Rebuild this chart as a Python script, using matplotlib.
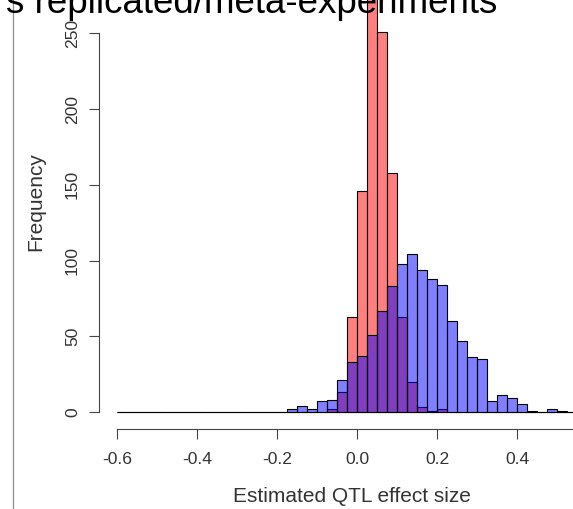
import numpy as np
import matplotlib
matplotlib.use("Agg")
import matplotlib.pyplot as plt
from matplotlib.lines import Line2D

plt.rcParams['font.family'] = ['Liberation Sans', 'DejaVu Sans']

# histogram bins (breaks as in R's hist, width 0.025)
bin_start = -0.6
bin_width = 0.025
n_bins = 47

# counts per bin (bin 0 starts at -0.6)
single_counts = [0] * 21 + [2, 13, 63, 146, 285, 251, 158, 63, 20, 3, 1, 2] + [0] * 14
meta_counts = [0] * 17 + [2, 4, 2, 7, 8, 21, 33, 37, 51, 67, 83, 98, 104, 94, 88, 84,
                          60, 47, 36, 35, 7, 11, 9, 5, 1, 0, 2, 1, 0, 0]

title_text = "s replicated/meta-experiments"
x_label = "Estimated QTL effect size"
y_label = "Frequency"
x_ticks = [-0.6, -0.4, -0.2, 0.0, 0.2, 0.4]
x_axis_end = 0.6  # axis line runs on past the right edge of the crop
y_ticks = [0, 50, 100, 150, 200, 250]

left_edges = bin_start + bin_width * np.arange(n_bins)
bin_end = bin_start + bin_width * n_bins

W, H = 573, 509
fig = plt.figure(figsize=(W / 100, H / 100), dpi=100)

# plot region (partly outside the cropped picture)
px_left, px_right, px_top, px_bottom = 98.7, 606.0, -37.0, 429.3
ax = fig.add_axes([px_left / W, (H - px_bottom) / H,
                   (px_right - px_left) / W, (px_bottom - px_top) / H])

# R-style 4% extension of the data range
xr = bin_end - bin_start
ymax = max(max(single_counts), max(meta_counts))
ax.set_xlim(bin_start - 0.04 * xr, bin_end + 0.04 * xr)
ax.set_ylim(-0.04 * ymax, 1.04 * ymax)

ax.bar(left_edges, single_counts, width=bin_width, align='edge',
       facecolor=(1, 0, 0, 0.5), edgecolor='black', linewidth=0.8)
ax.bar(left_edges, meta_counts, width=bin_width, align='edge',
       facecolor=(0, 0, 1, 0.5), edgecolor='black', linewidth=0.8)

for side in ['top', 'right']:
    ax.spines[side].set_visible(False)
ax.spines['bottom'].set_bounds(x_ticks[0], x_axis_end)
ax.spines['left'].set_bounds(y_ticks[0], y_ticks[-1])
for side in ['bottom', 'left']:
    ax.spines[side].set_color('#444444')
    ax.spines[side].set_linewidth(0.8)

ax.set_xticks(x_ticks)
ax.set_xticklabels(["%.1f" % v for v in x_ticks])
ax.set_yticks(y_ticks)
ax.set_yticklabels([str(v) for v in y_ticks], rotation=90, va='center')
ax.tick_params(axis='both', length=7.5, width=0.8, color='#444444',
               labelsize=12.6, labelcolor='#333333')
ax.tick_params(axis='x', pad=9)
ax.tick_params(axis='y', pad=6)

fig.text(352 / W, 1 - 497 / H, x_label, ha='center', va='center',
         fontsize=15, color='#333333')
fig.text(36 / W, 1 - 202 / H, y_label, ha='center', va='center',
         rotation=90, fontsize=15, color='#333333')

fig.text(497 / W, 1 - 13 / H, title_text, ha='right', va='baseline',
         fontsize=26.5, color='black')

fig.add_artist(Line2D([13.3 / W, 13.3 / W], [0, 1], color='#8c8c8c', linewidth=0.9))

fig.savefig("out.png", dpi=100)
